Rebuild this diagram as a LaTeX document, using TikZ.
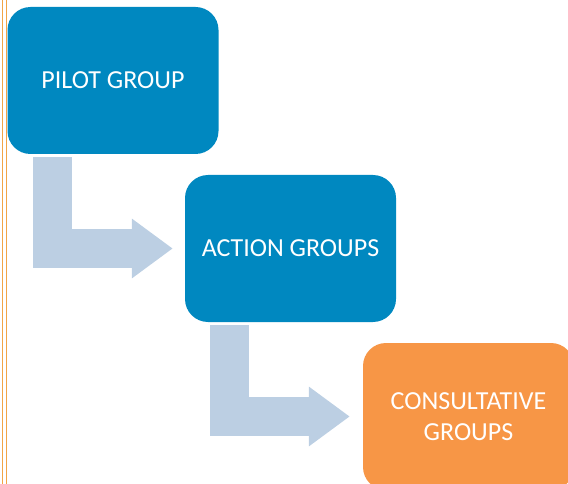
\documentclass[tikz,border=0pt]{standalone}
\usepackage{fontspec}
\setmainfont{Carlito}
\usepackage{tikz}
\usetikzlibrary{arrows.meta,positioning}
\definecolor{groupblue}{RGB}{0,136,192}
\definecolor{grouporange}{RGB}{247,150,70}
\definecolor{flowgray}{RGB}{188,207,227}
\definecolor{rulegold}{RGB}{242,165,70}
\tikzstyle{group} = [rectangle, rounded corners=23pt, fill=groupblue, text=white, minimum width=211pt, minimum height=147pt, align=center, font=\fontsize{26}{31}\selectfont, inner sep=0pt]
\tikzstyle{flow} = [draw=flowgray, line width=39pt, -{Triangle[length=41pt,width=57pt]}]
\tikzstyle{rule} = [draw=rulegold, line width=1pt]

\begin{document}
\begin{tikzpicture}[x=1pt,y=-1pt]
    \useasboundingbox (0,0) rectangle (568,484);
    \clip (0,0) rectangle (568,484);
    \draw[rule] (2,0) -- (2,484);
    \draw[rule] (6,0) -- (6,484);

    \node[group] (pilot) at (113,80.5) {PILOT GROUP};
    \node[group] (action) at (290.5,248.5) {ACTION GROUPS};
    \node[group, fill=grouporange] (consult) at (468.5,416.5) {CONSULTATIVE\\GROUPS};

    \draw[flow] ([xshift=-61pt,yshift=-3pt]pilot.south) |- ([xshift=-12pt]action.west);
    \draw[flow] ([xshift=-61pt,yshift=-3pt]action.south) |- ([xshift=-13pt]consult.west);
\end{tikzpicture}
\end{document}
